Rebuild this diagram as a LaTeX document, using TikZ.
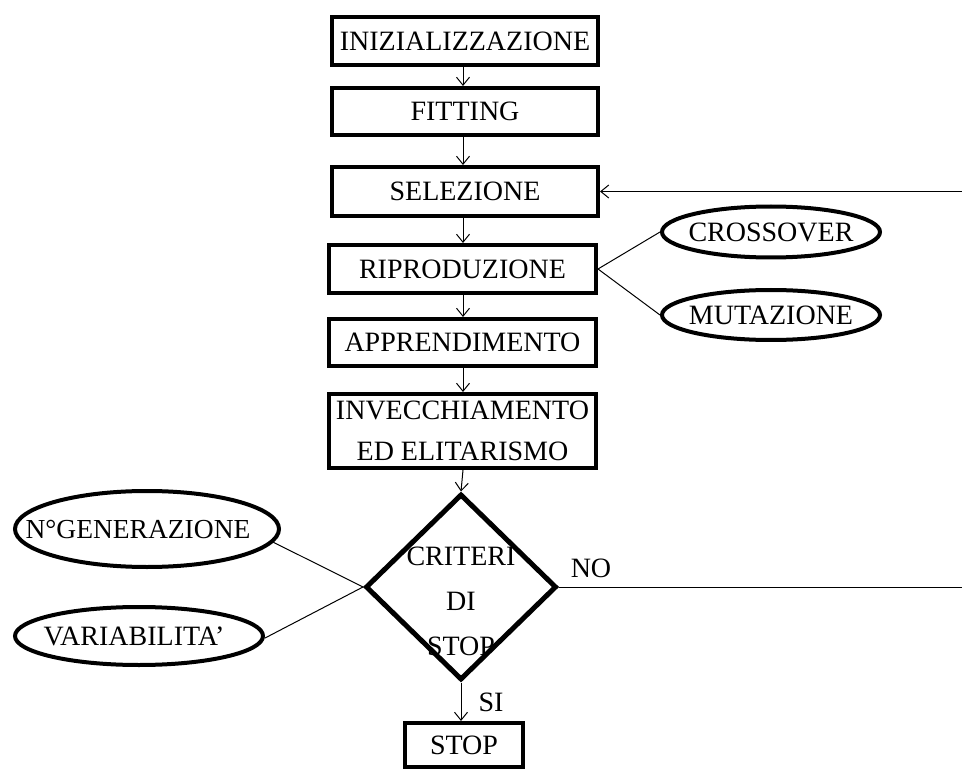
\documentclass[tikz,border=0pt]{standalone}
\usepackage{fontspec}
\setmainfont{Liberation Serif}
\usetikzlibrary{shapes.geometric,arrows.meta}
\begin{document}
\begin{tikzpicture}[x=1pt,y=-1pt,
  box/.style={draw,line width=4pt,inner sep=0pt,font=\fontsize{28}{41}\selectfont,align=center},
  ell/.style={draw,ellipse,line width=4pt,inner sep=0pt},
  conn/.style={line width=1pt},
  arr/.style={line width=1pt,-{Straight Barb[length=8pt,width=13pt,line width=1pt]}},
  lbl/.style={font=\fontsize{28}{34}\selectfont,inner sep=0pt}]
\useasboundingbox (0,0) rectangle (962,770);
% boxes
\node[box,minimum width=266,minimum height=48] (ini) at (465,41) {INIZIALIZZAZIONE};
\node[box,minimum width=266,minimum height=47] (fit) at (465,111.5) {FITTING};
\node[box,minimum width=266,minimum height=49] (sel) at (465,191.5) {SELEZIONE};
\node[box,minimum width=267,minimum height=48] (rip) at (462.5,269) {RIPRODUZIONE};
\node[box,minimum width=267,minimum height=47] (app) at (462.5,342.5) {APPRENDIMENTO};
\node[box,minimum width=267,minimum height=74] (inv) at (462.5,431) {INVECCHIAMENTO\\ED ELITARISMO};
\node[box,minimum width=118,minimum height=44] (stop) at (464,745) {STOP};
% diamond
\node[draw,diamond,line width=5pt,inner sep=0pt,minimum width=191,minimum height=186] (d) at (461,587) {};
\node[lbl,align=center,font=\fontsize{28}{45}\selectfont] (dt) at (461,601) {CRITERI\\DI\\STOP};
% ellipses
\node[ell,minimum width=218,minimum height=51] (co) at (771,232) {};
\node[lbl] (cot) at (771,232) {CROSSOVER};
\node[ell,minimum width=218,minimum height=50] (mu) at (771,315) {};
\node[lbl] (mut) at (771,315) {MUTAZIONE};
\node[ell,minimum width=264,minimum height=76] (ng) at (147,529) {};
\node[lbl,font=\fontsize{27.5}{34}\selectfont] (ngt) at (138,529) {N°GENERAZIONE};
\node[ell,minimum width=248,minimum height=58] (va) at (139,636) {};
\node[lbl] (vat) at (134,636) {VARIABILITA’};
% labels
\node[lbl] (no) at (591,568) {NO};
\node[lbl] (si) at (491,702) {SI};
% coordinates at the edge
\coordinate (noE) at (962,587);
\coordinate (selE) at (962,191.5);
% arrows
\draw[arr] (ini.south -| 463,0) -- (463,0 |- fit.north);
\draw[arr] (fit.south -| 463,0) -- (463,0 |- sel.north);
\draw[arr] (sel.south -| 463,0) -- (463,0 |- rip.north);
\draw[arr] (rip.south -| 463,0) -- (463,0 |- app.north);
\draw[arr] (app.south -| 463,0) -- (463,0 |- inv.north);
\draw[arr] (inv.south -| 463,0) -- (d.north);
\draw[arr] (d.south) -- (d.south |- stop.north);
\draw[conn] (d.east) -- (noE);
\draw[arr] (selE) -- (sel.east);
\draw[conn] (rip.east) -- (co.west);
\draw[conn] (rip.east) -- (mu.west);
\draw[conn] (ng.-6) -- (d.west);
\draw[conn] (va.-1) -- (d.west);
\end{tikzpicture}
\end{document}
